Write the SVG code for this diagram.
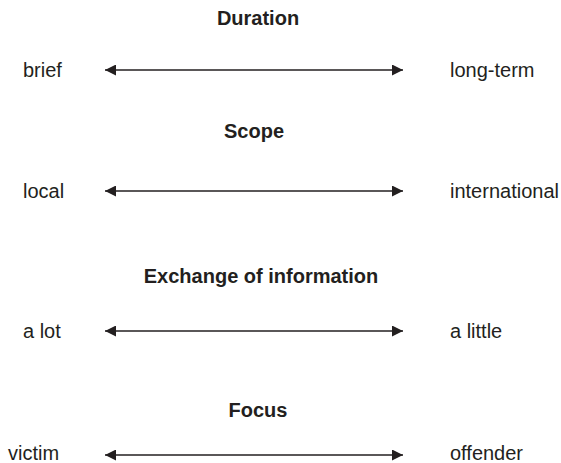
<svg xmlns="http://www.w3.org/2000/svg" width="561" height="463" viewBox="0 0 561 463">
<style>
text{font-family:"Liberation Sans",Arial,sans-serif;fill:#231f20}
.t{font-size:20px;font-weight:bold;text-anchor:middle}
.l{font-size:20px}
.c{stroke:#231f20;stroke-width:1.5;fill:none}
</style>
<defs>
<marker id="ah" viewBox="0 0 10 10" refX="10" refY="5" markerWidth="11" markerHeight="11" markerUnits="userSpaceOnUse" orient="auto-start-reverse">
<path d="M0,0 L10,5 L0,10 Z" fill="#231f20"/>
</marker>
</defs>
<g id="connectors">
<line class="c" x1="105" y1="70" x2="403" y2="70" marker-start="url(#ah)" marker-end="url(#ah)"/>
<line class="c" x1="105" y1="191" x2="403" y2="191" marker-start="url(#ah)" marker-end="url(#ah)"/>
<line class="c" x1="105" y1="331" x2="403" y2="331" marker-start="url(#ah)" marker-end="url(#ah)"/>
<line class="c" x1="105" y1="455" x2="403" y2="455" marker-start="url(#ah)" marker-end="url(#ah)"/>
</g>
<g id="duration">
<text class="t" x="258" y="25">Duration</text>
<text class="l" x="23" y="77">brief</text>
<text class="l" x="450" y="77">long-term</text>
</g>
<g id="scope">
<text class="t" x="254" y="138">Scope</text>
<text class="l" x="23" y="198">local</text>
<text class="l" x="450" y="198">international</text>
</g>
<g id="exchange">
<text class="t" x="261" y="283">Exchange of information</text>
<text class="l" x="23" y="338">a lot</text>
<text class="l" x="450" y="338">a little</text>
</g>
<g id="focus">
<text class="t" x="258" y="417">Focus</text>
<text class="l" x="8" y="460">victim</text>
<text class="l" x="450" y="460">offender</text>
</g>
</svg>
